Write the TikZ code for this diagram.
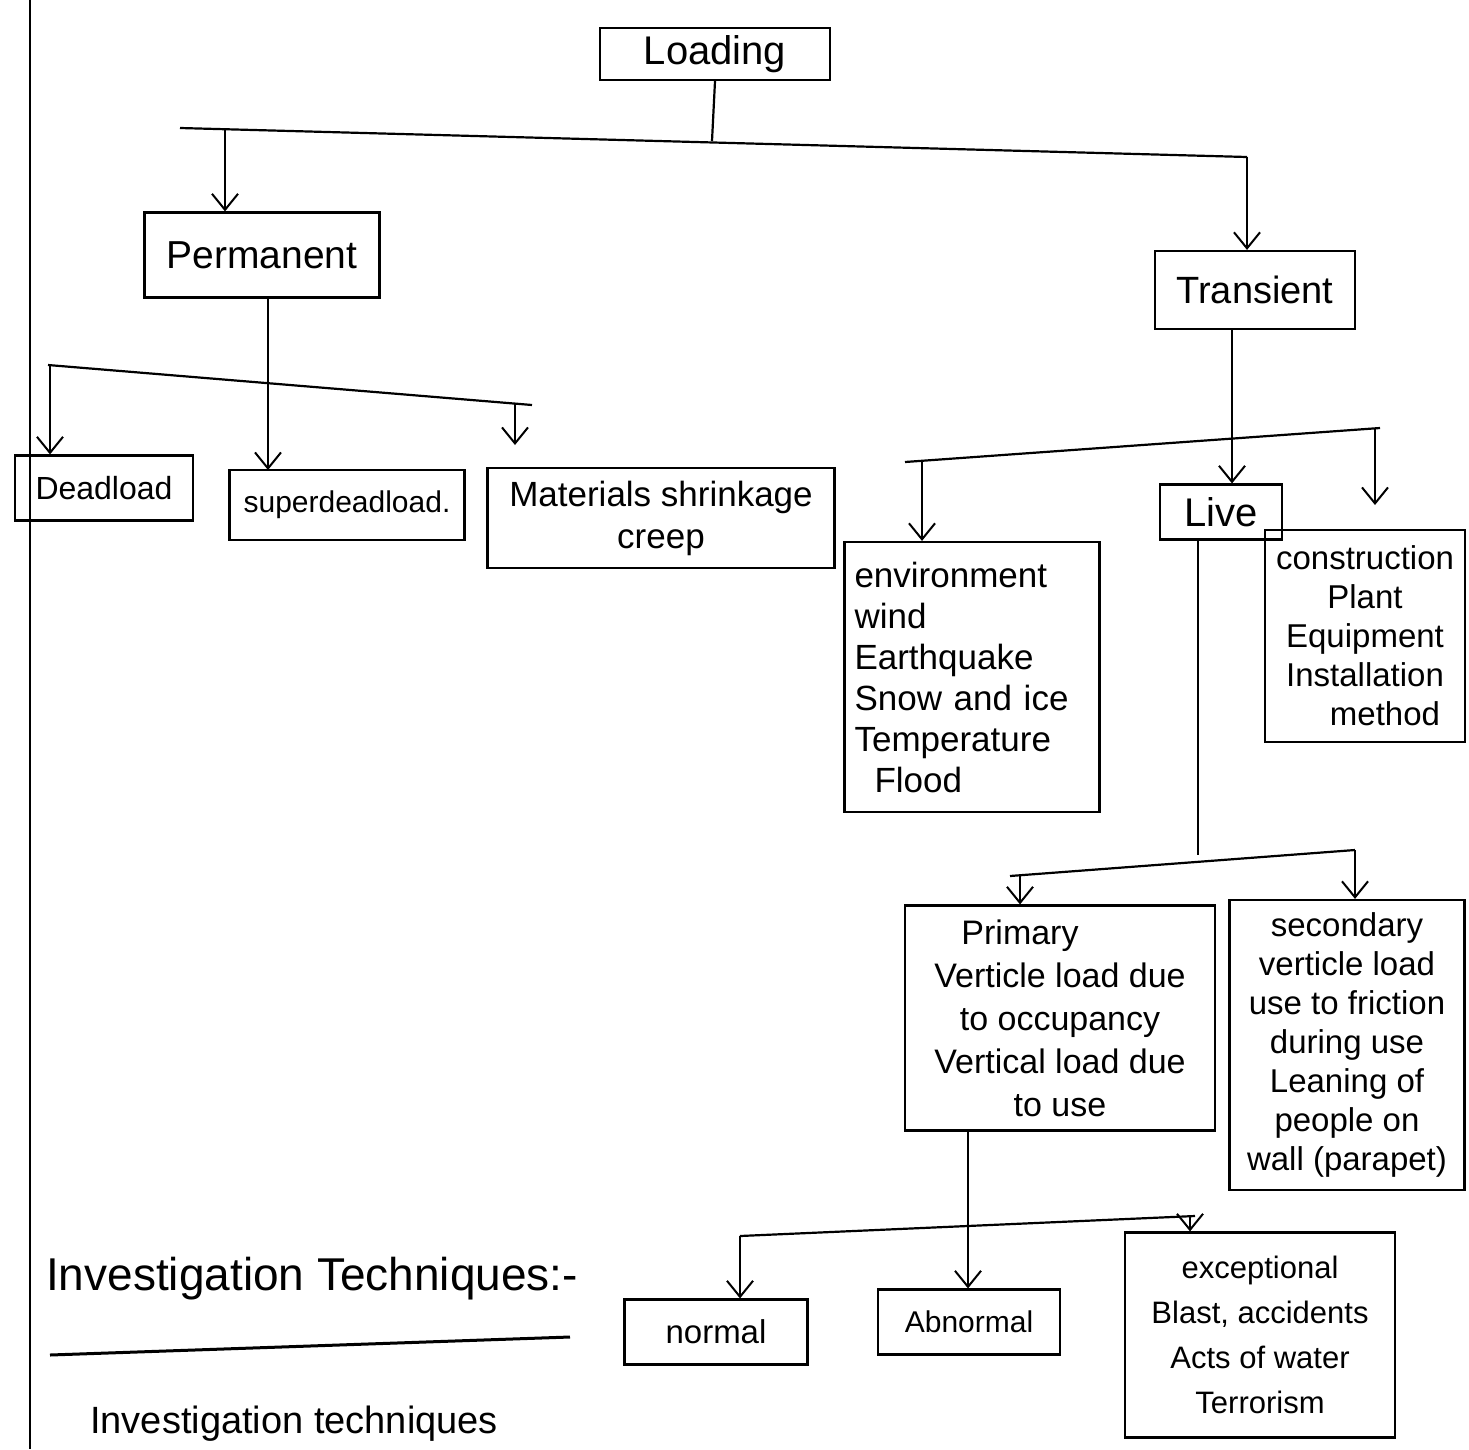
\documentclass[tikz,border=0pt]{standalone}
\usepackage{fontspec}
\setmainfont{Liberation Sans}
\usetikzlibrary{arrows.meta}
\tikzset{
  box/.style={draw, line width=2.2pt, inner sep=3pt, align=center, font=\fontsize{28}{38}\selectfont},
  wire/.style={line width=2.2pt},
  arr/.style={line width=2.2pt, -{Straight Barb[length=16pt,width=26pt,line width=2pt]}},
  margin/.style={line width=1.6pt}
}
\begin{document}
\begin{tikzpicture}[x=1pt,y=-1pt]
\useasboundingbox (0,0) rectangle (1469,1449);
\fill[white] (0,0) rectangle (1469,1449);
% page margin line
\coordinate (mt) at (30,0);
\coordinate (mb) at (30,1449);
\draw[margin] (mt) -- (mb);

% nodes
\node[box, minimum width=230pt, minimum height=52pt, font=\fontsize{40}{44}\selectfont] (load) at (715,54) {Loading};
\node[box, minimum width=235pt, minimum height=85pt, font=\fontsize{39}{44}\selectfont] (perm) at (262,255) {Permanent};
\node[box, minimum width=200pt, minimum height=78pt, font=\fontsize{38}{44}\selectfont] (trans) at (1255,290) {Transient};
\node[box, minimum width=178pt, minimum height=65pt, font=\fontsize{32}{38}\selectfont] (dead) at (104,488) {Deadload};
\node[box, minimum width=235pt, minimum height=70pt, font=\fontsize{30}{36}\selectfont] (super) at (347,505) {superdeadload.};
\node[box, minimum width=347pt, minimum height=100pt, font=\fontsize{35}{42}\selectfont] (mat) at (661,518) {Materials shrinkage\\creep};
\node[box, minimum width=122pt, minimum height=55pt, font=\fontsize{40}{44}\selectfont] (live) at (1221,512) {Live};
\node[box, minimum width=255pt, minimum height=270pt, align=left, text width=235pt, font=\fontsize{35}{41}\selectfont] (env) at (972,677) {environment\\wind\\Earthquake\\Snow and ice\\Temperature\\\hspace*{20pt}Flood};
\node[box, minimum width=200pt, minimum height=212pt, font=\fontsize{33}{39}\selectfont] (cons) at (1365,636) {construction\\Plant\\Equipment\\Installation\\\hspace*{40pt}method};
\node[box, minimum width=310pt, minimum height=225pt, font=\fontsize{34}{43}\selectfont] (prim) at (1060,1018) {\hspace*{-80pt}Primary\\Verticle load due\\to occupancy\\Vertical load due\\to use};
\node[box, minimum width=235pt, minimum height=290pt, font=\fontsize{33}{39}\selectfont] (sec) at (1347,1045) {secondary\\verticle load\\use to friction\\during use\\Leaning of\\people on\\wall (parapet)};
\node[box, minimum width=183pt, minimum height=65pt, font=\fontsize{33}{38}\selectfont] (norm) at (716,1332) {normal};
\node[box, minimum width=182pt, minimum height=65pt, font=\fontsize{30}{36}\selectfont] (abn) at (969,1322) {Abnormal};
\node[box, minimum width=270pt, minimum height=205pt, font=\fontsize{31}{45}\selectfont] (exc) at (1260,1335) {exceptional\\Blast, accidents\\Acts of water\\Terrorism};

% heading
\node[anchor=base west, inner sep=0pt, font=\fontsize{46}{52}\selectfont] (inv) at (46,1290) {Investigation Techniques:-};
\coordinate (ul1) at (50,1355);
\coordinate (ul2) at (570,1337);
\draw[line width=3pt] (ul1) -- (ul2);
\node[anchor=base west, inner sep=0pt, font=\fontsize{38}{44}\selectfont] (inv2) at (90,1433) {Investigation techniques};

% Loading tree
\coordinate (j0) at (712,141);
\coordinate (b1l) at (180,128);
\coordinate (b1r) at (1247,157);
\coordinate (j1) at (225,130);
\draw[wire] (load.south) -- (j0);
\draw[wire] (b1l) -- (b1r);
\draw[arr] (j1) -- (j1 |- perm.north);
\draw[arr] (b1r) -- (b1r |- trans.north);

% Permanent tree
\coordinate (b2l) at (48,365);
\coordinate (b2r) at (532,405);
\coordinate (j2a) at (50,365);
\coordinate (j2c) at (515,404);
\coordinate (j2ce) at (515,445);
\draw[arr] (perm.south -| 268,0) -- (268,470);
\draw[wire] (b2l) -- (b2r);
\draw[arr] (j2a) -- (j2a |- dead.north);
\draw[arr] (j2c) -- (j2ce);

% Transient tree
\coordinate (j3) at (1232,433);
\coordinate (b3l) at (905,462);
\coordinate (b3r) at (1380,428);
\coordinate (j3a) at (922,460);
\coordinate (j3c) at (1375,428);
\draw[wire] (trans.south -| j3) -- (j3);
\draw[wire] (b3l) -- (b3r);
\draw[arr] (j3a) -- (j3a |- env.north);
\draw[arr] (j3) -- (j3 |- live.north);
\draw[arr] (j3c) -- (1375,505);

% Live tree
\coordinate (j4) at (1198,855);
\coordinate (b4l) at (1010,876);
\coordinate (b4r) at (1355,850);
\coordinate (j4a) at (1020,875);
\draw[wire] (live.south -| j4) -- (j4);
\draw[wire] (b4l) -- (b4r);
\draw[arr] (j4a) -- (j4a |- prim.north);
\draw[arr] (b4r) -- (b4r |- sec.north);

% Primary tree
\coordinate (j5) at (968,1226);
\coordinate (b5l) at (740,1236);
\coordinate (b5r) at (1195,1216);
\coordinate (j5c) at (1190,1216);
\draw[wire] (prim.south -| j5) -- (j5);
\draw[wire] (b5l) -- (b5r);
\draw[arr] (b5l) -- (b5l |- norm.north);
\draw[arr] (j5 |- 0,1226) -- (j5 |- abn.north);
\draw[arr] (j5c) -- (j5c |- exc.north);
\end{tikzpicture}
\end{document}
